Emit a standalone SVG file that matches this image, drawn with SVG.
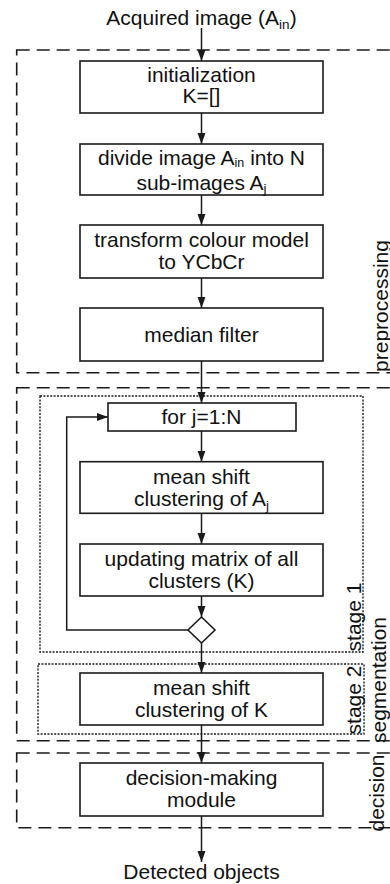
<svg xmlns="http://www.w3.org/2000/svg" width="390" height="884" viewBox="0 0 390 884">
<style>
text{font-family:"Liberation Sans",Arial,sans-serif;font-size:21px;fill:#111;text-anchor:middle}
.box{fill:#fff;stroke:#1a1a1a;stroke-width:1.6}
.grp{fill:none;stroke:#1a1a1a;stroke-width:1.6;stroke-dasharray:13 7}
.stg{fill:none;stroke:#1a1a1a;stroke-width:1.4;stroke-dasharray:2 1.4}
.con{fill:none;stroke:#1a1a1a;stroke-width:1.5}
.sub{font-size:13.5px}
.subs{font-size:12.5px}
</style>
<defs>
<marker id="arr" markerUnits="userSpaceOnUse" markerWidth="11" markerHeight="9" refX="11" refY="4" orient="auto">
<path d="M0,0 L11,4 L0,8 z" fill="#1a1a1a"/>
</marker>
</defs>

<g id="group-preprocessing">
<rect class="grp" x="16.7" y="50" width="380" height="322.7"/>
<text transform="translate(387.5,306) rotate(-90)">preprocessing</text>
</g>
<g id="group-segmentation">
<rect class="grp" x="16.7" y="387.7" width="380" height="353"/>
<text transform="translate(386,680) rotate(-90)">segmentation</text>
</g>
<g id="group-decision">
<rect class="grp" x="16.7" y="753" width="380" height="74.7"/>
<text transform="translate(383.5,793) rotate(-90)">decision</text>
</g>
<g id="stage1">
<rect class="stg" x="40" y="396" width="323" height="256"/>
<text transform="translate(360.5,617) rotate(-90)">stage 1</text>
</g>
<g id="stage2">
<rect class="stg" x="38" y="664" width="326" height="70"/>
<text transform="translate(360.5,700) rotate(-90)">stage 2</text>
</g>

<g id="connectors">
<line class="con" x1="201.5" y1="28" x2="201.5" y2="61" marker-end="url(#arr)"/>
<line class="con" x1="201.5" y1="113" x2="201.5" y2="144" marker-end="url(#arr)"/>
<line class="con" x1="201.5" y1="195" x2="201.5" y2="225" marker-end="url(#arr)"/>
<line class="con" x1="201.5" y1="278" x2="201.5" y2="308" marker-end="url(#arr)"/>
<line class="con" x1="201.5" y1="361" x2="201.5" y2="403" marker-end="url(#arr)"/>
<line class="con" x1="201.5" y1="431" x2="201.5" y2="461.7" marker-end="url(#arr)"/>
<line class="con" x1="201.5" y1="513.3" x2="201.5" y2="544" marker-end="url(#arr)"/>
<line class="con" x1="201.5" y1="596" x2="201.5" y2="617" marker-end="url(#arr)"/>
<line class="con" x1="201.5" y1="643" x2="201.5" y2="673" marker-end="url(#arr)"/>
<line class="con" x1="201.5" y1="725" x2="201.5" y2="763" marker-end="url(#arr)"/>
<line class="con" x1="201.5" y1="816" x2="201.5" y2="862" marker-end="url(#arr)"/>
<polyline class="con" points="188.5,630 66.7,630 66.7,417 108,417" marker-end="url(#arr)"/>
</g>

<g id="input">
<text x="201.5" y="25">Acquired image (A<tspan class="sub" dy="4">in</tspan><tspan dy="-4">)</tspan></text>
</g>
<g id="init">
<rect class="box" x="80" y="61" width="243" height="52"/>
<text x="201.5" y="82">initialization</text>
<text x="201.5" y="103">K=[]</text>
</g>
<g id="divide">
<rect class="box" x="80" y="144" width="243" height="51"/>
<text x="201.5" y="165">divide image A<tspan class="subs" dy="2">in</tspan><tspan dy="-2"> into N</tspan></text>
<text x="201.5" y="189.5">sub-images A<tspan class="sub" dy="3.5">j</tspan></text>
</g>
<g id="transform">
<rect class="box" x="80" y="225" width="243" height="53"/>
<text x="201.5" y="247">transform colour model</text>
<text x="201.5" y="268.5">to YCbCr</text>
</g>
<g id="median">
<rect class="box" x="80" y="308" width="243" height="53"/>
<text x="201.5" y="342">median filter</text>
</g>
<g id="forloop">
<rect class="box" x="108" y="403" width="188" height="28"/>
<text x="201.5" y="424">for j=1:N</text>
</g>
<g id="meanshiftA">
<rect class="box" x="80" y="461.7" width="243" height="51.6"/>
<text x="201.5" y="484">mean shift</text>
<text x="201.5" y="505.5">clustering of A<tspan class="sub" dy="4">j</tspan></text>
</g>
<g id="updating">
<rect class="box" x="80" y="544" width="243" height="52"/>
<text x="201.5" y="566">updating matrix of all</text>
<text x="201.5" y="587.5">clusters (K)</text>
</g>
<g id="decision-diamond">
<polygon class="box" points="201.5,617 215,630 201.5,643 188,630"/>
</g>
<g id="meanshiftK">
<rect class="box" x="80" y="673" width="243" height="52"/>
<text x="201.5" y="695">mean shift</text>
<text x="201.5" y="716.5">clustering of K</text>
</g>
<g id="decisionmodule">
<rect class="box" x="80" y="763" width="243" height="53"/>
<text x="201.5" y="785">decision-making</text>
<text x="201.5" y="806.5">module</text>
</g>
<g id="output">
<text x="201.5" y="879">Detected objects</text>
</g>
</svg>
